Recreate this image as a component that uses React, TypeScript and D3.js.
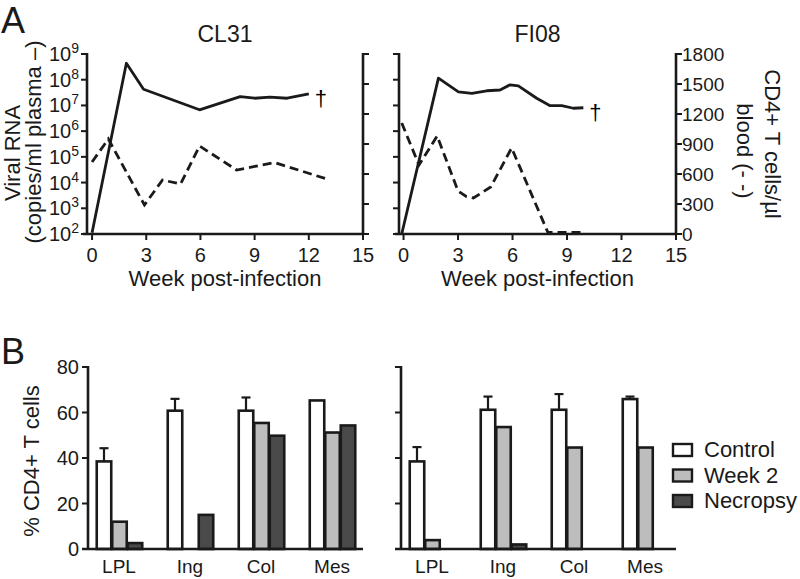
import React from 'react';
import * as d3 from 'd3';

// ---------- Panel A data ----------
const weekTicks = [0, 3, 6, 9, 12, 15];
const logTicks = [2, 3, 4, 5, 6, 7, 8, 9];
const cd4Ticks = [0, 300, 600, 900, 1200, 1500, 1800];

const cl31ViralWeek = [0, 1.9, 2.85, 5.95, 8.2, 9.0, 9.85, 10.8, 12];
const cl31ViralLog = [2.05, 8.64, 7.63, 6.83, 7.34, 7.28, 7.32, 7.28, 7.45];
const cl31Cd4Week = [0, 0.9, 2.9, 3.9, 4.9, 5.95, 8.0, 10.1, 13.0];
const cl31Cd4 = [720, 950, 290, 540, 500, 880, 640, 715, 550];

const fi08ViralWeek = [-0.1, 1.92, 3.02, 3.76, 4.58, 5.31, 5.86, 6.32, 7.33, 8.07, 8.71, 9.35, 9.9];
const fi08ViralLog = [2.0, 8.06, 7.53, 7.47, 7.57, 7.6, 7.8, 7.76, 7.28, 6.99, 6.99, 6.89, 6.91];
const fi08Cd4Week = [-0.1, 0.85, 1.85, 3.0, 3.45, 3.85, 4.8, 5.95, 7.95, 8.5, 9.0, 9.9];
const fi08Cd4 = [1110, 690, 980, 430, 375, 360, 470, 860, 15, 15, 15, 15];

// ---------- Panel B data ----------
const categories = ['LPL', 'Ing', 'Col', 'Mes'];
const seriesNames = ['Control', 'Week 2', 'Necropsy'];
const barTicks = [0, 20, 40, 60, 80];

const cl31Control = [38.5, 60.8, 60.8, 65.3];
const cl31ControlErr = [5.8, 5.2, 5.8, 0];
const cl31Week2 = [12, null, 55.4, 51.2];
const cl31Necropsy = [2.6, 15, 49.8, 54.3];

const fi08Control = [38.5, 61.2, 61.2, 65.9];
const fi08ControlErr = [6.3, 5.8, 6.9, 1.1];
const fi08Week2 = [3.9, 53.6, 44.6, 44.6];
const fi08Necropsy = [null, 2, null, null];

const FONT = "'Liberation Sans', Arial, Helvetica, sans-serif";
const INK = '#1a1a1a';
const FILLS = ['#ffffff', '#bdbdbd', '#4a4a4a'];
const TICK_FS = 19;

const yTop = 54;
const yBottom = 234;
const logScale = d3.scaleLinear().domain([2, 9]).range([yBottom, yTop]);
const cd4Scale = d3.scaleLinear().domain([0, 1800]).range([yBottom, yTop]);

function LinePanel(props: {
  title: string; x0: number; x1: number; dmin: number;
  vw: number[]; vl: number[]; cw: number[]; cv: number[];
  leftLabels: boolean; rightLabels: boolean;
}) {
  const { title, x0, x1, dmin, vw, vl, cw, cv, leftLabels, rightLabels } = props;
  const x = d3.scaleLinear().domain([dmin, 15]).range([x0, x1]);
  const viralLine = d3.line<number>().x((_, i) => x(vw[i])).y((d) => logScale(d));
  const cd4Line = d3.line<number>().x((_, i) => x(cw[i])).y((d) => cd4Scale(d));
  const lastX = x(vw[vw.length - 1]);
  const lastY = logScale(vl[vl.length - 1]);
  const sw = 2.6;
  return (
    <g>
      <text x={(x0 + x1) / 2} y={42} textAnchor="middle" fontSize={23} fontFamily={FONT} fill={INK}>{title}</text>
      {/* left axis */}
      <line x1={x0} x2={x0} y1={yTop - 1} y2={yBottom + 1} stroke={INK} strokeWidth={sw} />
      {logTicks.map((t) => (
        <g key={t}>
          <line x1={x0 - 6} x2={x0} y1={logScale(t)} y2={logScale(t)} stroke={INK} strokeWidth={2} />
          {leftLabels && (
            <text x={x0 - 8} y={logScale(t) + 7} textAnchor="end" fontSize={TICK_FS + 1} fontFamily={FONT} fill={INK}>
              10<tspan dy={-8} fontSize={14}>{t}</tspan>
            </text>
          )}
        </g>
      ))}
      {/* right axis */}
      <line x1={x1} x2={x1} y1={yTop - 1} y2={yBottom + 1} stroke={INK} strokeWidth={sw} />
      {cd4Ticks.map((t) => (
        <g key={t}>
          <line x1={x1} x2={x1 + 6} y1={cd4Scale(t)} y2={cd4Scale(t)} stroke={INK} strokeWidth={2} />
          {rightLabels && (
            <text x={x1 + 6} y={cd4Scale(t) + 7} textAnchor="start" fontSize={TICK_FS} fontFamily={FONT} fill={INK}>{t}</text>
          )}
        </g>
      ))}
      {/* x axis */}
      <line x1={x0 - 4} x2={x1 + 1} y1={yBottom} y2={yBottom} stroke={INK} strokeWidth={sw} />
      {weekTicks.map((t) => (
        <g key={t}>
          <line x1={x(t)} x2={x(t)} y1={yBottom} y2={yBottom + 6} stroke={INK} strokeWidth={2} />
          <text x={x(t)} y={yBottom + 28} textAnchor="middle" fontSize={TICK_FS + 1} fontFamily={FONT} fill={INK}>{t}</text>
        </g>
      ))}
      <text x={(x0 + x1) / 2} y={yBottom + 52} textAnchor="middle" fontSize={22} fontFamily={FONT} fill={INK}>Week post-infection</text>
      {/* data */}
      <path d={cd4Line(cv) || ''} fill="none" stroke={INK} strokeWidth={2.8} strokeDasharray="9,5" />
      <path d={viralLine(vl) || ''} fill="none" stroke={INK} strokeWidth={2.8} strokeLinejoin="round" />
      <text x={lastX + 6} y={lastY + 12} fontSize={22} fontFamily={FONT} fill="#000">†</text>
    </g>
  );
}

function BarPanel(props: {
  ax: number; control: number[]; err: number[]; week2: (number | null)[]; nec: (number | null)[]; labels: boolean;
}) {
  const { ax, control, err, week2, nec, labels } = props;
  const y0 = 549;
  const y = d3.scaleLinear().domain([0, 80]).range([y0, 367]);
  const xg = d3.scaleBand<string>().domain(categories).range([ax, ax + 275]).paddingInner(0.345).paddingOuter(0.109);
  const xs = d3.scaleBand<string>().domain(seriesNames).range([0, xg.bandwidth()]).padding(0);
  const vals = [control, week2, nec];
  const sw = 2.6;
  return (
    <g>
      {/* bars */}
      {categories.map((c, ci) => (
        <g key={c} transform={`translate(${xg(c)},0)`}>
          {seriesNames.map((s, si) => {
            const v = vals[si][ci];
            if (v == null) return null;
            return (
              <rect key={s} x={(xs(s) as number) + 1} y={y(v)} width={xs.bandwidth() - 1} height={y0 - y(v)}
                fill={FILLS[si]} stroke={INK} strokeWidth={sw} />
            );
          })}
          {err[ci] > 0 && (
            <g>
              <line x1={(xs('Control') as number) + xs.bandwidth() / 2 + 0.5} x2={(xs('Control') as number) + xs.bandwidth() / 2 + 0.5}
                y1={y(control[ci])} y2={y(control[ci] + err[ci])} stroke={INK} strokeWidth={2.2} />
              <line x1={(xs('Control') as number) + xs.bandwidth() / 2 - 4} x2={(xs('Control') as number) + xs.bandwidth() / 2 + 5}
                y1={y(control[ci] + err[ci])} y2={y(control[ci] + err[ci])} stroke={INK} strokeWidth={2.2} />
            </g>
          )}
          <text x={xg.bandwidth() / 2} y={573} textAnchor="middle" fontSize={19} fontFamily={FONT} fill={INK}>{c}</text>
        </g>
      ))}
      {/* axes */}
      <line x1={ax} x2={ax} y1={y(80) - 1} y2={y0} stroke={INK} strokeWidth={sw} />
      {barTicks.map((t) => (
        <g key={t}>
          <line x1={ax - 6} x2={ax} y1={y(t)} y2={y(t)} stroke={INK} strokeWidth={2} />
          {labels && (
            <text x={ax - 9} y={y(t) + 7} textAnchor="end" fontSize={TICK_FS + 1} fontFamily={FONT} fill={INK}>{t}</text>
          )}
        </g>
      ))}
      <line x1={ax - 6} x2={ax + 275} y1={y0} y2={y0} stroke={INK} strokeWidth={sw} />
    </g>
  );
}

export default function App() {
  return (
    <svg width={800} height={579} style={{ position: 'absolute', left: 0, top: 0, background: '#fff' }}>
      <rect width={800} height={579} fill="#fff" />
      <text x={1} y={33} fontSize={36} fontFamily={FONT} fill={INK}>A</text>
      <text x={1} y={364} fontSize={36} fontFamily={FONT} fill={INK}>B</text>

      {/* Panel A left label */}
      <text transform="translate(20,153) rotate(-90)" textAnchor="middle" fontSize={22} fontFamily={FONT} fill={INK}>Viral RNA</text>
      <text transform="translate(41,142) rotate(-90)" textAnchor="middle" fontSize={22} fontFamily={FONT} fill={INK}>(copies/ml plasma –)</text>

      <LinePanel title="CL31" x0={87} x1={363} dmin={-0.28}
        vw={cl31ViralWeek} vl={cl31ViralLog} cw={cl31Cd4Week} cv={cl31Cd4}
        leftLabels={true} rightLabels={false} />
      <LinePanel title="FI08" x0={399} x1={676} dmin={-0.25}
        vw={fi08ViralWeek} vl={fi08ViralLog} cw={fi08Cd4Week} cv={fi08Cd4}
        leftLabels={false} rightLabels={true} />

      {/* Panel A right label */}
      <text transform="translate(765,144) rotate(90)" textAnchor="middle" fontSize={22} fontFamily={FONT} fill={INK}>CD4+ T cells/µl</text>
      <text transform="translate(737,151) rotate(90)" textAnchor="middle" fontSize={22} fontFamily={FONT} fill={INK}>blood (- -)</text>

      {/* Panel B */}
      <text transform="translate(39,461) rotate(-90)" textAnchor="middle" fontSize={22} fontFamily={FONT} fill={INK}>% CD4+ T cells</text>
      <BarPanel ax={88} control={cl31Control} err={cl31ControlErr} week2={cl31Week2} nec={cl31Necropsy} labels={true} />
      <BarPanel ax={401} control={fi08Control} err={fi08ControlErr} week2={fi08Week2} nec={fi08Necropsy} labels={false} />

      {/* Legend */}
      {seriesNames.map((s, i) => (
        <g key={s}>
          <rect x={673} y={444 + i * 25.5} width={19} height={12} fill={FILLS[i]} stroke={INK} strokeWidth={2.4} />
          <text x={704} y={457 + i * 25.5} fontSize={22} fontFamily={FONT} fill={INK}>{s}</text>
        </g>
      ))}
    </svg>
  );
}
